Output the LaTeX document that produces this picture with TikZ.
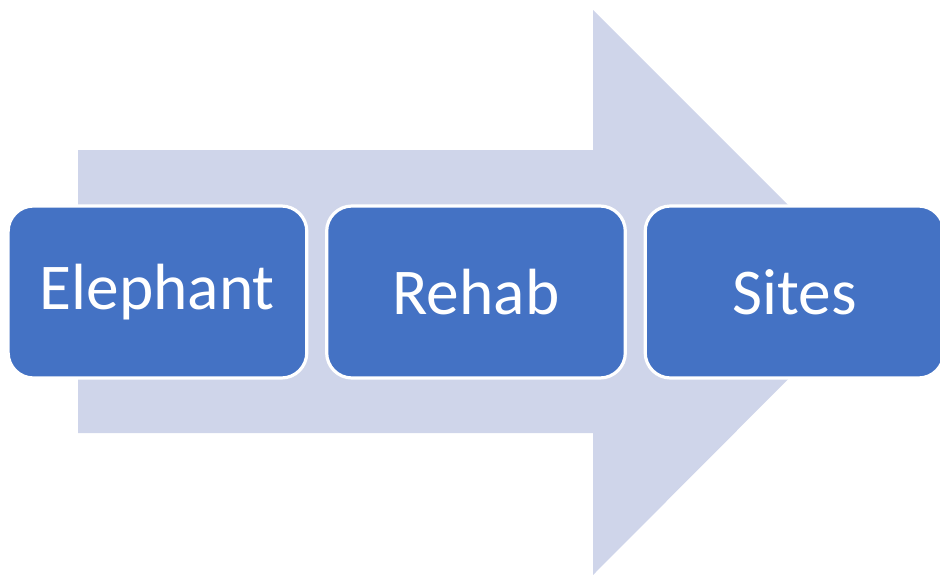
\documentclass[tikz,border=0pt]{standalone}
\usepackage{fontspec}
\setmainfont{Carlito}
\usepackage{tikz}
\usetikzlibrary{positioning}

\definecolor{stepblue}{HTML}{4472C4}
\definecolor{arrowfill}{HTML}{CFD5EA}

\begin{document}
\begin{tikzpicture}[
  x=1pt,y=-1pt,
  stagebox/.style={fill=stepblue,draw=white,line width=2.4pt,
    rounded corners=19pt,minimum width=224pt,minimum height=129pt,
    inner sep=0pt,text=white,font=\fontsize{49}{55}\selectfont},
  flow/.style={fill=arrowfill,draw=none}
]
  \useasboundingbox (0,0) rectangle (705,431.25);

  % Background block arrow
  \fill[flow]
    (58.5,112.5) -- (444.75,112.5) -- (444.75,7.5)
    -- (656.25,219) -- (444.75,431.25) -- (444.75,324.75)
    -- (58.5,324.75) -- cycle;

  % The three stages
  \node[stagebox] (elephant) at (118.1,219) {Elephant};
  \node[stagebox,right=12.5pt of elephant] (rehab) {Rehab};
  \node[stagebox,right=12.5pt of rehab] (sites) {Sites};
\end{tikzpicture}
\end{document}
